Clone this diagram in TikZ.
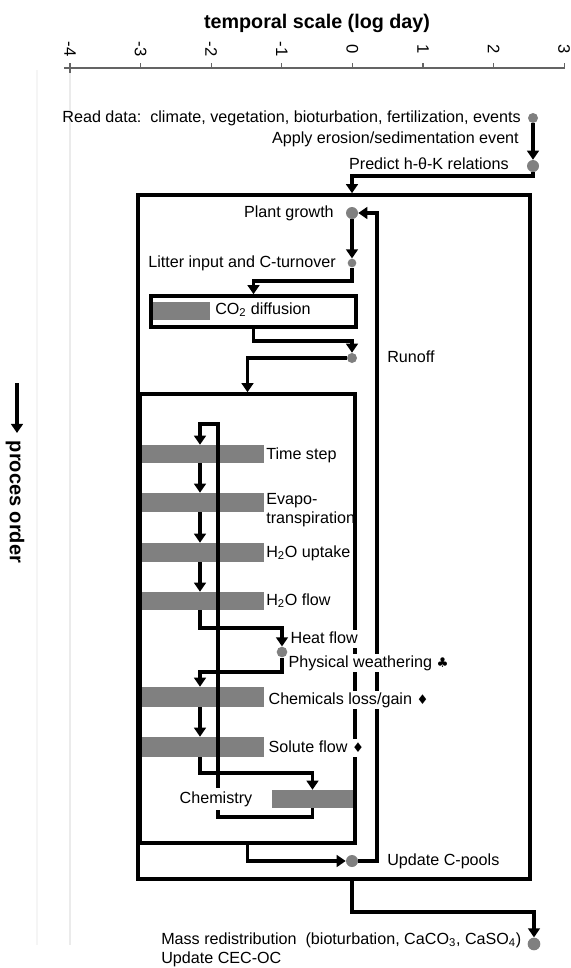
\documentclass[tikz,border=0pt]{standalone}
\usepackage{fontspec}
\setmainfont{Liberation Sans}
\newfontfamily\symfont{DejaVu Sans}
\usetikzlibrary{arrows.meta,fit,calc}
\definecolor{dotgray}{RGB}{128,128,128}
\definecolor{bargray}{RGB}{128,128,128}
\definecolor{axisgray}{RGB}{100,100,100}
\begin{document}
\begin{tikzpicture}[x=0.75pt,y=-0.75pt,
  every node/.style={font=\fontsize{12.1}{14.4}\selectfont, inner sep=0pt},
  conn/.style={line width=2.7pt, -{Triangle[length=6.8pt,width=8.8pt]}, line join=miter},
  box/.style={draw, line width=2.7pt, inner sep=0pt},
  bar/.style={fill=bargray, inner sep=0pt},
  gdot/.style={circle, fill=dotgray, inner sep=0pt, minimum size=#1},
  txt/.style={text height=8.6pt, text depth=2.5pt},
  wlbl/.style={txt, anchor=west, fill=white, inner xsep=1pt, inner ysep=1.5pt},
  tick/.style={rotate=-90, font=\fontsize{12.5}{14.4}\selectfont},
]
\useasboundingbox (0,0) rectangle (571,968);

% faint guide lines
\draw[black!4, line width=0.8pt] (37,70) -- (37,945);
\draw[black!8, line width=0.8pt] (70,70) -- (70,945);

% axis
\node[font=\bfseries\fontsize{14.8}{17}\selectfont] (title) at (317,23) {temporal scale (log day)};
\draw[axisgray, line width=0.9pt] (64,68) -- (565,68);
\draw[axisgray, line width=0.9pt] (70,63) -- (70,73);
\foreach \i/\l in {0/-4,1/-3,2/-2,3/-1,4/0,5/1,6/2,7/3} {
  \draw[axisgray, line width=0.9pt] (70+70.6*\i,68) -- ++(0,-5);
  \node[tick] (tk\i) at (70+70.6*\i,49) {\l};
}

% bars
\node[bar, fit={(153,302) (210,320)}] (co2bar) {};
\node[bar, fit={(140,445) (264,463)}] (timebar) {};
\node[bar, fit={(140,493) (264,512)}] (evapbar) {};
\node[bar, fit={(140,543) (264,562)}] (uptakebar) {};
\node[bar, fit={(140,592) (264,610)}] (flowbar) {};
\node[bar, fit={(140,687) (264,707)}] (lossbar) {};
\node[bar, fit={(140,737) (264,757)}] (solutebar) {};
\node[bar, fit={(272,790) (353,808)}] (chembar) {};

% boxes
\node[box, fit={(138,195) (530,879)}] (outer) {};
\node[box, fit={(151,296) (356,327)}] (co2box) {};
\node[box, fit={(140,394) (355,843)}] (inner) {};

% dots
\node[gdot=7.5pt] (dread) at (533,118) {};
\node[gdot=9pt] (dpred) at (533,166) {};
\node[gdot=9pt] (dplant) at (352,213) {};
\node[gdot=6.5pt] (dlitter) at (352,263) {};
\node[gdot=7.5pt] (drunoff) at (352,358) {};
\node[gdot=8pt] (dheat) at (282,652) {};
\node[gdot=9pt] (dcpool) at (352,861) {};
\node[gdot=9.5pt] (dmass) at (534,944) {};

% coordinates
\coordinate (col) at (200,0);
\coordinate (loopL) at (218,817);
\coordinate (loopT) at (218,424);
\coordinate (rb) at (377,861);
\coordinate (rt) at (377,213);
\coordinate (pa) at (17,383);
\coordinate (pb) at (17,433);

% connectors
\draw[conn] (dread) -- (dpred);
\draw[conn] (dpred) -- ++(0,10) -| (dplant |- outer.north);
\draw[conn] (dplant) -- (dlitter);
\draw[conn] (dlitter) -- ++(0,18) -| (co2box.north);
\draw[conn] (co2box.south) -- ++(0,12) -| (drunoff);
\draw[conn] (drunoff) -| (inner.north);
\draw[conn] (chembar.south) |- (loopL) -- (loopT) -| (col |- timebar.north);
\draw[conn] (col |- timebar.south) -- (col |- evapbar.north);
\draw[conn] (col |- evapbar.south) -- (col |- uptakebar.north);
\draw[conn] (col |- uptakebar.south) -- (col |- flowbar.north);
\draw[conn] (col |- flowbar.south) -- ++(0,18) -| (dheat);
\draw[conn] (dheat) -- ++(0,20) -| (col |- lossbar.north);
\draw[conn] (col |- lossbar.south) -- (col |- solutebar.north);
\draw[conn] (col |- solutebar.south) -- ++(0,16) -| (chembar.north);
\draw[conn] (inner.south) |- (dcpool);
\draw[conn] (dcpool) -- (rb) -- (rt) -- (dplant);
\draw[conn] (dcpool |- outer.south) -- ++(0,31) -| (dmass);
\draw[conn] (pa) -- (pb);

% labels
\node[txt, anchor=east] (tread) at (521,118) {Read data:\ \ climate, vegetation, bioturbation, fertilization, events};
\node[txt, anchor=east] (tapply) at (519,139) {Apply erosion/sedimentation event};
\node[txt, anchor=east] (tpred) at (509,165) {Predict h-θ-K relations};
\node[txt, anchor=east] (tplant) at (334,213) {Plant growth};
\node[txt, anchor=east] (tlitter) at (336,263) {Litter input and C-turnover};
\node[txt, anchor=west] (tco2) at (215,310) {CO\textsubscript{2} diffusion};
\node[txt, anchor=west] (trunoff) at (387,358) {Runoff};
\node[txt, anchor=west] (ttime) at (266,455) {Time step};
\node[anchor=west, align=left, font=\fontsize{12.1}{14.25}\selectfont] (tevap) at (266,510) {Evapo-\\transpiration};
\node[txt, anchor=west] (tuptake) at (266,553) {H\textsubscript{2}O uptake};
\node[txt, anchor=west] (tflow) at (266,601) {H\textsubscript{2}O flow};
\node[wlbl] (theat) at (289,639) {Heat flow};
\node[wlbl] (tphys) at (287,663) {Physical weathering {\symfont\fontsize{10}{12}\selectfont ♣}};
\node[wlbl] (tloss) at (267,700) {Chemicals loss/gain {\symfont\fontsize{10}{12}\selectfont ♦}};
\node[wlbl] (tsolute) at (267,748) {Solute flow {\symfont\fontsize{10}{12}\selectfont ♦}};
\node[txt, fill=white, inner xsep=1pt, inner ysep=3pt] (tchem) at (216,799) {Chemistry};
\node[txt, anchor=west] (tcpool) at (387,861) {Update C-pools};
\node[txt, anchor=west] (tmass) at (161,940) {Mass redistribution\ \ (bioturbation, CaCO\textsubscript{3}, CaSO\textsubscript{4})};
\node[txt, anchor=west] (tcec) at (161,959) {Update CEC-OC};
\node[rotate=-90, font=\bfseries\fontsize{15}{18}\selectfont] (porder) at (15,502) {proces order};
\end{tikzpicture}
\end{document}
